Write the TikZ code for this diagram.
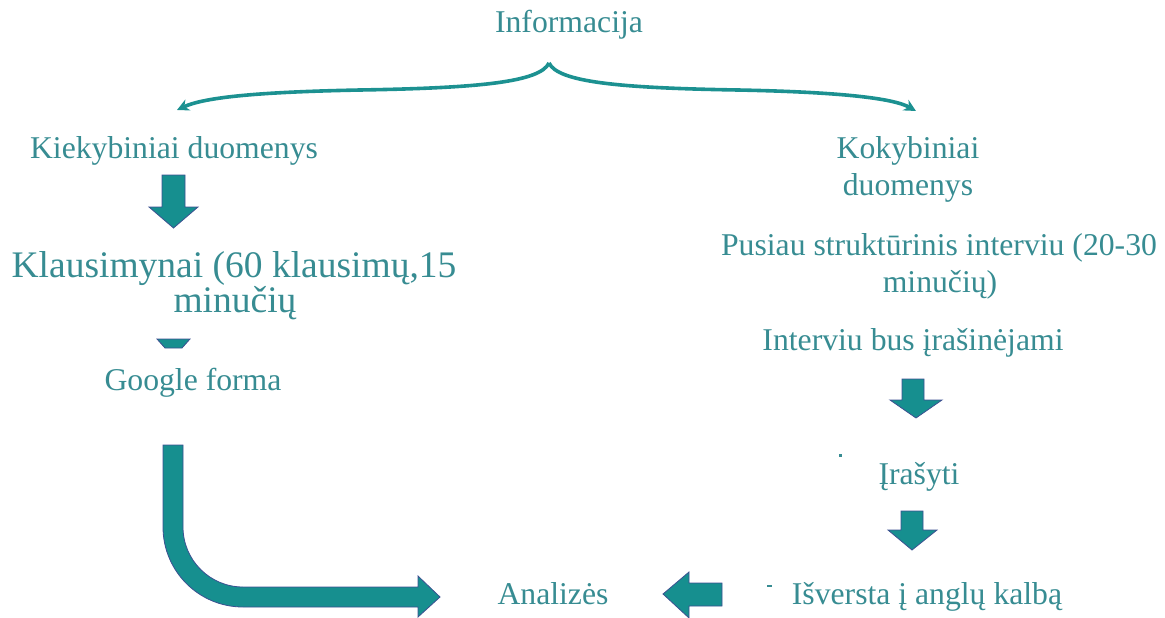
\documentclass[tikz,border=0pt]{standalone}
\usepackage{fontspec}
\setmainfont{Liberation Serif}
\usetikzlibrary{arrows.meta}
\definecolor{txtc}{RGB}{55,140,146}
\definecolor{arrfill}{RGB}{22,143,143}
\definecolor{arrline}{RGB}{60,80,145}
\definecolor{bracec}{RGB}{28,145,145}
\tikzset{
  lbl/.style={anchor=base, inner sep=0pt, text=txtc, font=\fontsize{31.7}{38}\selectfont},
  biglbl/.style={anchor=base, inner sep=0pt, text=txtc, font=\fontsize{37.5}{44}\selectfont},
  blockarrow/.style={fill=arrfill, draw=arrline, line width=0.8pt, line join=miter},
  bracearrow/.style={draw=bracec, line width=3.6pt, -{Stealth[length=12pt,width=12pt]}},
  speck/.style={fill=txtc, draw=none}
}
\begin{document}
\begin{tikzpicture}[x=1pt,y=-1pt]
\useasboundingbox (0,0) rectangle (1165,618);

% texts
\node[lbl] (info) at (569,33) {Informacija};
\node[lbl] (kiek) at (174,158) {Kiekybiniai duomenys};
\node[lbl] (kok1) at (908,158) {Kokybiniai};
\node[lbl] (kok2) at (908,195) {duomenys};
\node[biglbl] (kl1) at (234,277) {Klausimynai (60 klausimų,15};
\node[biglbl] (kl2) at (235,312) {minučių};
\node[lbl] (goog) at (193,390) {Google forma};
\node[lbl] (pus1) at (939,255) {Pusiau struktūrinis interviu (20-30};
\node[lbl] (pus2) at (940,292) {minučių)};
\node[lbl] (intv) at (913,350) {Interviu bus įrašinėjami};
\node[lbl] (iras) at (919,484) {Įrašyti};
\node[lbl] (isv) at (927,604) {Išversta į anglų kalbą};
\node[lbl] (anal) at (553,604) {Analizės};

% brace arrows
\coordinate (peak) at (549,63);
\coordinate (ltip) at (177,110);
\coordinate (rtip) at (916,111);
\draw[bracearrow] (peak) .. controls (540,82) and (480,88) .. (360,90)
  .. controls (260,92) and (205,97) .. (ltip);
\draw[bracearrow] (peak) .. controls (558,82) and (618,88) .. (738,90)
  .. controls (838,92) and (893,98) .. (rtip);

% down arrow under Kiekybiniai
\draw[blockarrow] (162,175) -- (185,175) -- (185,207) -- (198,207) -- (173.5,228)
  -- (149,207) -- (162,207) -- cycle;
% partially hidden arrow head under minučių
\draw[blockarrow] (157,339) -- (190,339) -- (182,348) -- (165,348) -- cycle;
% L-shaped arrow from Google forma to Analizės
\draw[blockarrow] (163,445) -- (163,527)
  .. controls (163,571.2) and (198.8,607) .. (243,607)
  -- (418,607) -- (418,617) -- (440,597) -- (418,576) -- (418,587) -- (243,587)
  .. controls (209.9,587) and (183,560.1) .. (183,527)
  -- (183,445) -- cycle;
% down arrows right column
\draw[blockarrow] (902,379) -- (924,379) -- (924,400) -- (942,400) -- (916,418)
  -- (890,400) -- (902,400) -- cycle;
\draw[blockarrow] (901,511) -- (923,511) -- (923,530) -- (937,530) -- (912,550)
  -- (888,530) -- (901,530) -- cycle;
% left arrow to Analizės
\draw[blockarrow] (722,583) -- (689,583) -- (689,572) -- (663,594) -- (689,618)
  -- (689,606) -- (722,606) -- cycle;

% specks
\fill[speck] (839,454) rectangle (841.5,456.5);
\fill[speck] (767,585) rectangle (772,587);
\end{tikzpicture}
\end{document}
